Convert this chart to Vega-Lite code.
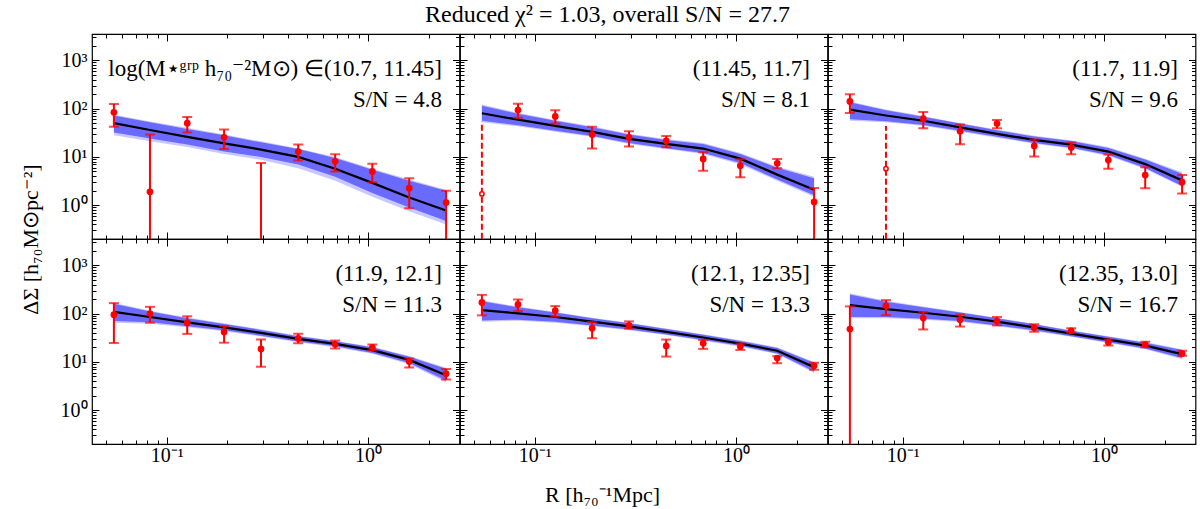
{
  "$schema": "https://vega.github.io/schema/vega-lite/v6.json",
  "background": "white",
  "padding": {"left": 18, "top": 2, "right": 4, "bottom": 2},
  "title": {"text": "Reduced χ² = 1.03, overall S/N = 27.7", "fontSize": 24, "font": "Liberation Serif", "fontWeight": "normal", "color": "black", "anchor": "middle", "offset": 0},
  "datasets": {
    "dsig": [
      {"p": 1, "R": 0.0546, "v": 84, "lo": 42, "hi": 125, "m": 50, "ilo": 32, "ihi": 72, "olo": 28, "ohi": 75},
      {"p": 1, "R": 0.0825, "v": 1.9, "lo": 0.01, "hi": 29, "m": 36, "ilo": 24, "ihi": 52, "olo": 21, "ohi": 54},
      {"p": 1, "R": 0.1264, "v": 50, "lo": 32, "hi": 67, "m": 26, "ilo": 18, "ihi": 38, "olo": 16, "ohi": 40},
      {"p": 1, "R": 0.1927, "v": 25.5, "lo": 14.6, "hi": 37, "m": 19, "ilo": 13, "ihi": 28, "olo": 11.5, "ohi": 29},
      {"p": 1, "R": 0.294, "v": null, "lo": 0.01, "hi": 7.5, "m": 14.2, "ilo": 10, "ihi": 20, "olo": 8.7, "ohi": 21},
      {"p": 1, "R": 0.45, "v": 12.9, "lo": 8.4, "hi": 18, "m": 10, "ilo": 7, "ihi": 14.5, "olo": 5.8, "ohi": 15},
      {"p": 1, "R": 0.687, "v": 8.1, "lo": 5.0, "hi": 11.4, "m": 5.7, "ilo": 3.9, "ihi": 9.5, "olo": 3.2, "ohi": 10},
      {"p": 1, "R": 1.051, "v": 5.0, "lo": 3.0, "hi": 7.2, "m": 2.9, "ilo": 1.8, "ihi": 5.4, "olo": 1.5, "ohi": 5.7},
      {"p": 1, "R": 1.603, "v": 2.25, "lo": 0.87, "hi": 3.6, "m": 1.45, "ilo": 0.9, "ihi": 3.2, "olo": 0.75, "ohi": 3.4},
      {"p": 1, "R": 2.445, "v": 1.14, "lo": 0.01, "hi": 2.0, "m": 0.78, "ilo": 0.47, "ihi": 2.0, "olo": 0.4, "ohi": 2.1},

      {"p": 2, "R": 0.0546, "v": 1.71, "lo": 0.01, "hi": 54, "neg": true, "m": 80, "ilo": 56, "ihi": 115, "olo": 52, "ohi": 122},
      {"p": 2, "R": 0.0825, "v": 93, "lo": 65, "hi": 126, "m": 59, "ilo": 45, "ihi": 78, "olo": 43, "ohi": 82},
      {"p": 2, "R": 0.1264, "v": 69, "lo": 49, "hi": 92, "m": 44, "ilo": 35, "ihi": 56, "olo": 33, "ohi": 58},
      {"p": 2, "R": 0.1927, "v": 29, "lo": 14.9, "hi": 42, "m": 33, "ilo": 27, "ihi": 41, "olo": 26, "ohi": 43},
      {"p": 2, "R": 0.294, "v": 25.5, "lo": 16.4, "hi": 34, "m": 23.6, "ilo": 19.5, "ihi": 29, "olo": 18.5, "ohi": 30},
      {"p": 2, "R": 0.45, "v": 21.4, "lo": 15.9, "hi": 27, "m": 18.6, "ilo": 15.2, "ihi": 22.5, "olo": 14.5, "ohi": 23.5},
      {"p": 2, "R": 0.687, "v": 9.1, "lo": 5.2, "hi": 12.5, "m": 14.9, "ilo": 12, "ihi": 18.5, "olo": 11.5, "ohi": 19.5},
      {"p": 2, "R": 1.051, "v": 6.6, "lo": 3.8, "hi": 9.0, "m": 9.2, "ilo": 7.5, "ihi": 11.5, "olo": 7, "ohi": 12},
      {"p": 2, "R": 1.603, "v": 7.4, "lo": 5.8, "hi": 9.1, "m": 4.3, "ilo": 3.4, "ihi": 6, "olo": 3.2, "ohi": 6.3},
      {"p": 2, "R": 2.445, "v": 1.17, "lo": 0.01, "hi": 2.27, "m": 2.1, "ilo": 1.6, "ihi": 3.6, "olo": 1.5, "ohi": 3.9},

      {"p": 3, "R": 0.0546, "v": 141, "lo": 81, "hi": 199, "m": 95, "ilo": 60, "ihi": 135, "olo": 56, "ohi": 140},
      {"p": 3, "R": 0.0825, "v": 5.7, "lo": 0.01, "hi": 43.6, "neg": true, "m": 72, "ilo": 55, "ihi": 92, "olo": 52, "ohi": 96},
      {"p": 3, "R": 0.1264, "v": 62, "lo": 39, "hi": 85, "m": 56, "ilo": 46, "ihi": 68, "olo": 44, "ohi": 70},
      {"p": 3, "R": 0.1927, "v": 34, "lo": 18.3, "hi": 47, "m": 41, "ilo": 35, "ihi": 49, "olo": 33, "ohi": 50},
      {"p": 3, "R": 0.294, "v": 49, "lo": 39, "hi": 58, "m": 30, "ilo": 26, "ihi": 35.5, "olo": 25, "ohi": 37},
      {"p": 3, "R": 0.45, "v": 16.9, "lo": 10.2, "hi": 22.9, "m": 22.5, "ilo": 19.5, "ihi": 26.5, "olo": 18.8, "ohi": 27.5},
      {"p": 3, "R": 0.687, "v": 15.6, "lo": 11.4, "hi": 19.8, "m": 18, "ilo": 15.5, "ihi": 21.3, "olo": 15, "ohi": 22},
      {"p": 3, "R": 1.051, "v": 8.6, "lo": 5.7, "hi": 11.2, "m": 12.9, "ilo": 11, "ihi": 15.3, "olo": 10.5, "ohi": 16},
      {"p": 3, "R": 1.603, "v": 4.2, "lo": 2.24, "hi": 6.1, "m": 7.1, "ilo": 5.9, "ihi": 8.8, "olo": 5.6, "ohi": 9.2},
      {"p": 3, "R": 2.445, "v": 3.0, "lo": 1.74, "hi": 4.2, "m": 3.27, "ilo": 2.5, "ihi": 4.5, "olo": 2.4, "ohi": 4.8},

      {"p": 4, "R": 0.0546, "v": 95, "lo": 24.6, "hi": 165, "m": 109, "ilo": 70, "ihi": 160, "olo": 65, "ohi": 168},
      {"p": 4, "R": 0.0825, "v": 100, "lo": 65, "hi": 138, "m": 85, "ilo": 66, "ihi": 110, "olo": 62, "ohi": 115},
      {"p": 4, "R": 0.1264, "v": 64, "lo": 38, "hi": 88, "m": 66, "ilo": 55, "ihi": 80, "olo": 52, "ohi": 83},
      {"p": 4, "R": 0.1927, "v": 41.7, "lo": 25, "hi": 55, "m": 52, "ilo": 45, "ihi": 61, "olo": 43, "ohi": 63},
      {"p": 4, "R": 0.294, "v": 18.6, "lo": 7.9, "hi": 29, "m": 40, "ilo": 35, "ihi": 46, "olo": 33.5, "ohi": 47.5},
      {"p": 4, "R": 0.45, "v": 30.8, "lo": 24.3, "hi": 38.5, "m": 30, "ilo": 26.5, "ihi": 34, "olo": 25.5, "ohi": 35},
      {"p": 4, "R": 0.687, "v": 23.2, "lo": 18.9, "hi": 27.6, "m": 23.6, "ilo": 21, "ihi": 26.8, "olo": 20, "ohi": 27.5},
      {"p": 4, "R": 1.051, "v": 20.1, "lo": 17.5, "hi": 22.9, "m": 17.5, "ilo": 15.3, "ihi": 20, "olo": 14.7, "ohi": 20.7},
      {"p": 4, "R": 1.603, "v": 10.2, "lo": 7.7, "hi": 11.8, "m": 11, "ilo": 9.5, "ihi": 12.8, "olo": 9, "ohi": 13.3},
      {"p": 4, "R": 2.445, "v": 5.7, "lo": 4.3, "hi": 7.1, "m": 5.3, "ilo": 4.1, "ihi": 7.2, "olo": 3.8, "ohi": 7.6},

      {"p": 5, "R": 0.0546, "v": 170, "lo": 92, "hi": 244, "m": 118, "ilo": 72, "ihi": 180, "olo": 68, "ohi": 190},
      {"p": 5, "R": 0.0825, "v": 155, "lo": 113, "hi": 196, "m": 101, "ilo": 75, "ihi": 135, "olo": 71, "ohi": 140},
      {"p": 5, "R": 0.1264, "v": 115, "lo": 86, "hi": 143, "m": 85, "ilo": 68, "ihi": 105, "olo": 65, "ohi": 108},
      {"p": 5, "R": 0.1927, "v": 50, "lo": 31, "hi": 67, "m": 68, "ilo": 57, "ihi": 80, "olo": 55, "ohi": 82},
      {"p": 5, "R": 0.294, "v": 57, "lo": 49, "hi": 69, "m": 54.5, "ilo": 47, "ihi": 63, "olo": 45, "ohi": 65},
      {"p": 5, "R": 0.45, "v": 21.4, "lo": 12.9, "hi": 29, "m": 42, "ilo": 37, "ihi": 48, "olo": 36, "ohi": 49},
      {"p": 5, "R": 0.687, "v": 24.3, "lo": 18.6, "hi": 28.5, "m": 32, "ilo": 28.5, "ihi": 36.5, "olo": 27.5, "ohi": 37.5},
      {"p": 5, "R": 1.051, "v": 20.8, "lo": 17.7, "hi": 24, "m": 24, "ilo": 21.5, "ihi": 27, "olo": 20.5, "ohi": 28},
      {"p": 5, "R": 1.603, "v": 12, "lo": 9.4, "hi": 13.1, "m": 17, "ilo": 15, "ihi": 19.5, "olo": 14.5, "ohi": 20},
      {"p": 5, "R": 2.445, "v": 8.3, "lo": 6.9, "hi": 9.6, "m": 7.8, "ilo": 6.3, "ihi": 9.6, "olo": 5.9, "ohi": 10},

      {"p": 6, "R": 0.0546, "v": 48, "lo": 0.01, "hi": 141, "m": 150, "ilo": 85, "ihi": 250, "olo": 80, "ohi": 265},
      {"p": 6, "R": 0.0825, "v": 145, "lo": 93, "hi": 190, "m": 124, "ilo": 85, "ihi": 175, "olo": 80, "ohi": 185},
      {"p": 6, "R": 0.1264, "v": 81, "lo": 47, "hi": 108, "m": 104, "ilo": 78, "ihi": 135, "olo": 75, "ohi": 140},
      {"p": 6, "R": 0.1927, "v": 75, "lo": 54, "hi": 96, "m": 86, "ilo": 70, "ihi": 105, "olo": 67, "ohi": 108},
      {"p": 6, "R": 0.294, "v": 70, "lo": 57, "hi": 85, "m": 68, "ilo": 57, "ihi": 80, "olo": 55, "ohi": 82},
      {"p": 6, "R": 0.45, "v": 51, "lo": 42, "hi": 60, "m": 52, "ilo": 45, "ihi": 60, "olo": 43, "ohi": 61},
      {"p": 6, "R": 0.687, "v": 44, "lo": 40, "hi": 50, "m": 38.5, "ilo": 34, "ihi": 44, "olo": 33, "ohi": 45},
      {"p": 6, "R": 1.051, "v": 25.5, "lo": 21.8, "hi": 29, "m": 29, "ilo": 25.5, "ihi": 33, "olo": 24.5, "ohi": 34},
      {"p": 6, "R": 1.603, "v": 22.9, "lo": 20.1, "hi": 26, "m": 21.8, "ilo": 19, "ihi": 25, "olo": 18.3, "ohi": 25.8},
      {"p": 6, "R": 2.445, "v": 14.9, "lo": 13.4, "hi": 17, "m": 14.5, "ilo": 12, "ihi": 17.6, "olo": 11.3, "ohi": 18.3}
    ],
    "labels": [
      {"p": 1, "rng": "log(M⋆ᵍʳᵖ h₇₀⁻²M⊙) ∈(10.7, 11.45]", "sn": "S/N = 4.8"},
      {"p": 2, "rng": "(11.45, 11.7]", "sn": "S/N = 8.1"},
      {"p": 3, "rng": "(11.7, 11.9]", "sn": "S/N = 9.6"},
      {"p": 4, "rng": "(11.9, 12.1]", "sn": "S/N = 11.3"},
      {"p": 5, "rng": "(12.1, 12.35]", "sn": "S/N = 13.3"},
      {"p": 6, "rng": "(12.35, 13.0]", "sn": "S/N = 16.7"}
    ]
  },
  "data": {"name": "dsig"},
  "columns": 3,
  "spacing": 0,
  "bounds": "flush",
  "concat": [
    {
      "width": 367.5, "height": 205,
      "transform": [{"filter": "datum.p == 1"}],
      "layer": [
        {"mark": {"type": "area", "color": "#c8c8ff"},
         "encoding": {
           "x": {"field": "R", "type": "quantitative", "scale": {"type": "log", "domain": [0.0425, 2.85], "nice": false}, "axis": {"orient": "bottom", "labels": false, "title": null}},
           "y": {"field": "olo", "type": "quantitative", "scale": {"type": "log", "domain": [0.2, 3500], "nice": false}, "axis": {"orient": "left", "title": "ΔΣ [h₇₀M⊙pc⁻²]", "titleX": -62, "titleY": 205, "titleBaseline": "middle"}},
           "y2": {"field": "ohi"}}},
        {"mark": {"type": "area", "color": "#6a6aff"},
         "encoding": {
           "x": {"field": "R", "type": "quantitative", "axis": {"orient": "top", "labels": false, "title": null}},
           "y": {"field": "ilo", "type": "quantitative", "axis": {"orient": "right", "labels": false, "title": null}},
           "y2": {"field": "ihi"}}},
        {"mark": {"type": "line", "color": "black", "strokeWidth": 2.2},
         "encoding": {"x": {"field": "R", "type": "quantitative", "axis": null}, "y": {"field": "m", "type": "quantitative", "axis": null}}},
        {"transform": [{"filter": "!datum.neg"}], "mark": {"type": "rule", "color": "red", "strokeWidth": 2, "clip": true},
         "encoding": {"x": {"field": "R", "type": "quantitative", "axis": null}, "y": {"field": "lo", "type": "quantitative", "axis": null}, "y2": {"field": "hi"}}},
        {"transform": [{"filter": "datum.neg"}], "mark": {"type": "rule", "color": "red", "strokeWidth": 2, "strokeDash": [6, 3], "clip": true},
         "encoding": {"x": {"field": "R", "type": "quantitative", "axis": null}, "y": {"field": "lo", "type": "quantitative", "axis": null}, "y2": {"field": "hi"}}},
        {"transform": [{"filter": "!datum.neg"}], "mark": {"type": "tick", "orient": "horizontal", "color": "red", "thickness": 2, "size": 10, "clip": true},
         "encoding": {"x": {"field": "R", "type": "quantitative", "axis": null}, "y": {"field": "hi", "type": "quantitative", "axis": null}}},
        {"transform": [{"filter": "!datum.neg"}], "mark": {"type": "tick", "orient": "horizontal", "color": "red", "thickness": 2, "size": 10, "clip": true},
         "encoding": {"x": {"field": "R", "type": "quantitative", "axis": null}, "y": {"field": "lo", "type": "quantitative", "axis": null}}},
        {"transform": [{"filter": "!datum.neg"}], "mark": {"type": "circle", "color": "red", "size": 45, "opacity": 1},
         "encoding": {"x": {"field": "R", "type": "quantitative", "axis": null}, "y": {"field": "v", "type": "quantitative", "axis": null}}},
        {"transform": [{"filter": "datum.neg"}], "mark": {"type": "point", "shape": "circle", "color": "red", "fill": "white", "filled": false, "strokeWidth": 1.5, "size": 18, "opacity": 1},
         "encoding": {"x": {"field": "R", "type": "quantitative", "axis": null}, "y": {"field": "v", "type": "quantitative", "axis": null}}},
        {"data": {"name": "labels"}, "transform": [{"filter": "datum.p == 1"}],
         "mark": {"type": "text", "align": "right", "baseline": "middle", "fontSize": 23, "font": "Liberation Serif"},
         "encoding": {"x": {"datum": 2.33, "type": "quantitative", "axis": null}, "y": {"datum": 670, "type": "quantitative", "axis": null}, "text": {"field": "rng"}}},
        {"data": {"name": "labels"}, "transform": [{"filter": "datum.p == 1"}],
         "mark": {"type": "text", "align": "right", "baseline": "middle", "fontSize": 23, "font": "Liberation Serif"},
         "encoding": {"x": {"datum": 2.33, "type": "quantitative", "axis": null}, "y": {"datum": 150, "type": "quantitative", "axis": null}, "text": {"field": "sn"}}}
      ],
      "resolve": {"axis": {"x": "independent", "y": "independent"}}
    },
    {
      "width": 367.5, "height": 205,
      "transform": [{"filter": "datum.p == 2"}],
      "layer": [
        {"mark": {"type": "area", "color": "#c8c8ff"},
         "encoding": {
           "x": {"field": "R", "type": "quantitative", "scale": {"type": "log", "domain": [0.0425, 2.85], "nice": false}, "axis": {"orient": "bottom", "labels": false, "title": null}},
           "y": {"field": "olo", "type": "quantitative", "scale": {"type": "log", "domain": [0.2, 3500], "nice": false}, "axis": {"orient": "left", "labels": false, "title": null}},
           "y2": {"field": "ohi"}}},
        {"mark": {"type": "area", "color": "#6a6aff"},
         "encoding": {
           "x": {"field": "R", "type": "quantitative", "axis": {"orient": "top", "labels": false, "title": null}},
           "y": {"field": "ilo", "type": "quantitative", "axis": {"orient": "right", "labels": false, "title": null}},
           "y2": {"field": "ihi"}}},
        {"mark": {"type": "line", "color": "black", "strokeWidth": 2.2},
         "encoding": {"x": {"field": "R", "type": "quantitative", "axis": null}, "y": {"field": "m", "type": "quantitative", "axis": null}}},
        {"transform": [{"filter": "!datum.neg"}], "mark": {"type": "rule", "color": "red", "strokeWidth": 2, "clip": true},
         "encoding": {"x": {"field": "R", "type": "quantitative", "axis": null}, "y": {"field": "lo", "type": "quantitative", "axis": null}, "y2": {"field": "hi"}}},
        {"transform": [{"filter": "datum.neg"}], "mark": {"type": "rule", "color": "red", "strokeWidth": 2, "strokeDash": [6, 3], "clip": true},
         "encoding": {"x": {"field": "R", "type": "quantitative", "axis": null}, "y": {"field": "lo", "type": "quantitative", "axis": null}, "y2": {"field": "hi"}}},
        {"transform": [{"filter": "!datum.neg"}], "mark": {"type": "tick", "orient": "horizontal", "color": "red", "thickness": 2, "size": 10, "clip": true},
         "encoding": {"x": {"field": "R", "type": "quantitative", "axis": null}, "y": {"field": "hi", "type": "quantitative", "axis": null}}},
        {"transform": [{"filter": "!datum.neg"}], "mark": {"type": "tick", "orient": "horizontal", "color": "red", "thickness": 2, "size": 10, "clip": true},
         "encoding": {"x": {"field": "R", "type": "quantitative", "axis": null}, "y": {"field": "lo", "type": "quantitative", "axis": null}}},
        {"transform": [{"filter": "!datum.neg"}], "mark": {"type": "circle", "color": "red", "size": 45, "opacity": 1},
         "encoding": {"x": {"field": "R", "type": "quantitative", "axis": null}, "y": {"field": "v", "type": "quantitative", "axis": null}}},
        {"transform": [{"filter": "datum.neg"}], "mark": {"type": "point", "shape": "circle", "color": "red", "fill": "white", "filled": false, "strokeWidth": 1.5, "size": 18, "opacity": 1},
         "encoding": {"x": {"field": "R", "type": "quantitative", "axis": null}, "y": {"field": "v", "type": "quantitative", "axis": null}}},
        {"data": {"name": "labels"}, "transform": [{"filter": "datum.p == 2"}],
         "mark": {"type": "text", "align": "right", "baseline": "middle", "fontSize": 23, "font": "Liberation Serif"},
         "encoding": {"x": {"datum": 2.33, "type": "quantitative", "axis": null}, "y": {"datum": 670, "type": "quantitative", "axis": null}, "text": {"field": "rng"}}},
        {"data": {"name": "labels"}, "transform": [{"filter": "datum.p == 2"}],
         "mark": {"type": "text", "align": "right", "baseline": "middle", "fontSize": 23, "font": "Liberation Serif"},
         "encoding": {"x": {"datum": 2.33, "type": "quantitative", "axis": null}, "y": {"datum": 150, "type": "quantitative", "axis": null}, "text": {"field": "sn"}}}
      ],
      "resolve": {"axis": {"x": "independent", "y": "independent"}}
    },
    {
      "width": 367.5, "height": 205,
      "transform": [{"filter": "datum.p == 3"}],
      "layer": [
        {"mark": {"type": "area", "color": "#c8c8ff"},
         "encoding": {
           "x": {"field": "R", "type": "quantitative", "scale": {"type": "log", "domain": [0.0425, 2.85], "nice": false}, "axis": {"orient": "bottom", "labels": false, "title": null}},
           "y": {"field": "olo", "type": "quantitative", "scale": {"type": "log", "domain": [0.2, 3500], "nice": false}, "axis": {"orient": "left", "labels": false, "title": null}},
           "y2": {"field": "ohi"}}},
        {"mark": {"type": "area", "color": "#6a6aff"},
         "encoding": {
           "x": {"field": "R", "type": "quantitative", "axis": {"orient": "top", "labels": false, "title": null}},
           "y": {"field": "ilo", "type": "quantitative", "axis": {"orient": "right", "labels": false, "title": null}},
           "y2": {"field": "ihi"}}},
        {"mark": {"type": "line", "color": "black", "strokeWidth": 2.2},
         "encoding": {"x": {"field": "R", "type": "quantitative", "axis": null}, "y": {"field": "m", "type": "quantitative", "axis": null}}},
        {"transform": [{"filter": "!datum.neg"}], "mark": {"type": "rule", "color": "red", "strokeWidth": 2, "clip": true},
         "encoding": {"x": {"field": "R", "type": "quantitative", "axis": null}, "y": {"field": "lo", "type": "quantitative", "axis": null}, "y2": {"field": "hi"}}},
        {"transform": [{"filter": "datum.neg"}], "mark": {"type": "rule", "color": "red", "strokeWidth": 2, "strokeDash": [6, 3], "clip": true},
         "encoding": {"x": {"field": "R", "type": "quantitative", "axis": null}, "y": {"field": "lo", "type": "quantitative", "axis": null}, "y2": {"field": "hi"}}},
        {"transform": [{"filter": "!datum.neg"}], "mark": {"type": "tick", "orient": "horizontal", "color": "red", "thickness": 2, "size": 10, "clip": true},
         "encoding": {"x": {"field": "R", "type": "quantitative", "axis": null}, "y": {"field": "hi", "type": "quantitative", "axis": null}}},
        {"transform": [{"filter": "!datum.neg"}], "mark": {"type": "tick", "orient": "horizontal", "color": "red", "thickness": 2, "size": 10, "clip": true},
         "encoding": {"x": {"field": "R", "type": "quantitative", "axis": null}, "y": {"field": "lo", "type": "quantitative", "axis": null}}},
        {"transform": [{"filter": "!datum.neg"}], "mark": {"type": "circle", "color": "red", "size": 45, "opacity": 1},
         "encoding": {"x": {"field": "R", "type": "quantitative", "axis": null}, "y": {"field": "v", "type": "quantitative", "axis": null}}},
        {"transform": [{"filter": "datum.neg"}], "mark": {"type": "point", "shape": "circle", "color": "red", "fill": "white", "filled": false, "strokeWidth": 1.5, "size": 18, "opacity": 1},
         "encoding": {"x": {"field": "R", "type": "quantitative", "axis": null}, "y": {"field": "v", "type": "quantitative", "axis": null}}},
        {"data": {"name": "labels"}, "transform": [{"filter": "datum.p == 3"}],
         "mark": {"type": "text", "align": "right", "baseline": "middle", "fontSize": 23, "font": "Liberation Serif"},
         "encoding": {"x": {"datum": 2.33, "type": "quantitative", "axis": null}, "y": {"datum": 670, "type": "quantitative", "axis": null}, "text": {"field": "rng"}}},
        {"data": {"name": "labels"}, "transform": [{"filter": "datum.p == 3"}],
         "mark": {"type": "text", "align": "right", "baseline": "middle", "fontSize": 23, "font": "Liberation Serif"},
         "encoding": {"x": {"datum": 2.33, "type": "quantitative", "axis": null}, "y": {"datum": 150, "type": "quantitative", "axis": null}, "text": {"field": "sn"}}}
      ],
      "resolve": {"axis": {"x": "independent", "y": "independent"}}
    },
    {
      "width": 367.5, "height": 205,
      "transform": [{"filter": "datum.p == 4"}],
      "layer": [
        {"mark": {"type": "area", "color": "#c8c8ff"},
         "encoding": {
           "x": {"field": "R", "type": "quantitative", "scale": {"type": "log", "domain": [0.0425, 2.85], "nice": false}, "axis": {"orient": "bottom", "title": null}},
           "y": {"field": "olo", "type": "quantitative", "scale": {"type": "log", "domain": [0.2, 3500], "nice": false}, "axis": {"orient": "left", "title": null}},
           "y2": {"field": "ohi"}}},
        {"mark": {"type": "area", "color": "#6a6aff"},
         "encoding": {
           "x": {"field": "R", "type": "quantitative", "axis": {"orient": "top", "labels": false, "title": null}},
           "y": {"field": "ilo", "type": "quantitative", "axis": {"orient": "right", "labels": false, "title": null}},
           "y2": {"field": "ihi"}}},
        {"mark": {"type": "line", "color": "black", "strokeWidth": 2.2},
         "encoding": {"x": {"field": "R", "type": "quantitative", "axis": null}, "y": {"field": "m", "type": "quantitative", "axis": null}}},
        {"transform": [{"filter": "!datum.neg"}], "mark": {"type": "rule", "color": "red", "strokeWidth": 2, "clip": true},
         "encoding": {"x": {"field": "R", "type": "quantitative", "axis": null}, "y": {"field": "lo", "type": "quantitative", "axis": null}, "y2": {"field": "hi"}}},
        {"transform": [{"filter": "datum.neg"}], "mark": {"type": "rule", "color": "red", "strokeWidth": 2, "strokeDash": [6, 3], "clip": true},
         "encoding": {"x": {"field": "R", "type": "quantitative", "axis": null}, "y": {"field": "lo", "type": "quantitative", "axis": null}, "y2": {"field": "hi"}}},
        {"transform": [{"filter": "!datum.neg"}], "mark": {"type": "tick", "orient": "horizontal", "color": "red", "thickness": 2, "size": 10, "clip": true},
         "encoding": {"x": {"field": "R", "type": "quantitative", "axis": null}, "y": {"field": "hi", "type": "quantitative", "axis": null}}},
        {"transform": [{"filter": "!datum.neg"}], "mark": {"type": "tick", "orient": "horizontal", "color": "red", "thickness": 2, "size": 10, "clip": true},
         "encoding": {"x": {"field": "R", "type": "quantitative", "axis": null}, "y": {"field": "lo", "type": "quantitative", "axis": null}}},
        {"transform": [{"filter": "!datum.neg"}], "mark": {"type": "circle", "color": "red", "size": 45, "opacity": 1},
         "encoding": {"x": {"field": "R", "type": "quantitative", "axis": null}, "y": {"field": "v", "type": "quantitative", "axis": null}}},
        {"transform": [{"filter": "datum.neg"}], "mark": {"type": "point", "shape": "circle", "color": "red", "fill": "white", "filled": false, "strokeWidth": 1.5, "size": 18, "opacity": 1},
         "encoding": {"x": {"field": "R", "type": "quantitative", "axis": null}, "y": {"field": "v", "type": "quantitative", "axis": null}}},
        {"data": {"name": "labels"}, "transform": [{"filter": "datum.p == 4"}],
         "mark": {"type": "text", "align": "right", "baseline": "middle", "fontSize": 23, "font": "Liberation Serif"},
         "encoding": {"x": {"datum": 2.33, "type": "quantitative", "axis": null}, "y": {"datum": 670, "type": "quantitative", "axis": null}, "text": {"field": "rng"}}},
        {"data": {"name": "labels"}, "transform": [{"filter": "datum.p == 4"}],
         "mark": {"type": "text", "align": "right", "baseline": "middle", "fontSize": 23, "font": "Liberation Serif"},
         "encoding": {"x": {"datum": 2.33, "type": "quantitative", "axis": null}, "y": {"datum": 150, "type": "quantitative", "axis": null}, "text": {"field": "sn"}}}
      ],
      "resolve": {"axis": {"x": "independent", "y": "independent"}}
    },
    {
      "width": 367.5, "height": 205,
      "transform": [{"filter": "datum.p == 5"}],
      "layer": [
        {"mark": {"type": "area", "color": "#c8c8ff"},
         "encoding": {
           "x": {"field": "R", "type": "quantitative", "scale": {"type": "log", "domain": [0.0425, 2.85], "nice": false}, "axis": {"orient": "bottom", "title": "R [h₇₀⁻¹Mpc]", "titleX": 142, "titleY": 50, "titleBaseline": "middle"}},
           "y": {"field": "olo", "type": "quantitative", "scale": {"type": "log", "domain": [0.2, 3500], "nice": false}, "axis": {"orient": "left", "labels": false, "title": null}},
           "y2": {"field": "ohi"}}},
        {"mark": {"type": "area", "color": "#6a6aff"},
         "encoding": {
           "x": {"field": "R", "type": "quantitative", "axis": {"orient": "top", "labels": false, "title": null}},
           "y": {"field": "ilo", "type": "quantitative", "axis": {"orient": "right", "labels": false, "title": null}},
           "y2": {"field": "ihi"}}},
        {"mark": {"type": "line", "color": "black", "strokeWidth": 2.2},
         "encoding": {"x": {"field": "R", "type": "quantitative", "axis": null}, "y": {"field": "m", "type": "quantitative", "axis": null}}},
        {"transform": [{"filter": "!datum.neg"}], "mark": {"type": "rule", "color": "red", "strokeWidth": 2, "clip": true},
         "encoding": {"x": {"field": "R", "type": "quantitative", "axis": null}, "y": {"field": "lo", "type": "quantitative", "axis": null}, "y2": {"field": "hi"}}},
        {"transform": [{"filter": "datum.neg"}], "mark": {"type": "rule", "color": "red", "strokeWidth": 2, "strokeDash": [6, 3], "clip": true},
         "encoding": {"x": {"field": "R", "type": "quantitative", "axis": null}, "y": {"field": "lo", "type": "quantitative", "axis": null}, "y2": {"field": "hi"}}},
        {"transform": [{"filter": "!datum.neg"}], "mark": {"type": "tick", "orient": "horizontal", "color": "red", "thickness": 2, "size": 10, "clip": true},
         "encoding": {"x": {"field": "R", "type": "quantitative", "axis": null}, "y": {"field": "hi", "type": "quantitative", "axis": null}}},
        {"transform": [{"filter": "!datum.neg"}], "mark": {"type": "tick", "orient": "horizontal", "color": "red", "thickness": 2, "size": 10, "clip": true},
         "encoding": {"x": {"field": "R", "type": "quantitative", "axis": null}, "y": {"field": "lo", "type": "quantitative", "axis": null}}},
        {"transform": [{"filter": "!datum.neg"}], "mark": {"type": "circle", "color": "red", "size": 45, "opacity": 1},
         "encoding": {"x": {"field": "R", "type": "quantitative", "axis": null}, "y": {"field": "v", "type": "quantitative", "axis": null}}},
        {"transform": [{"filter": "datum.neg"}], "mark": {"type": "point", "shape": "circle", "color": "red", "fill": "white", "filled": false, "strokeWidth": 1.5, "size": 18, "opacity": 1},
         "encoding": {"x": {"field": "R", "type": "quantitative", "axis": null}, "y": {"field": "v", "type": "quantitative", "axis": null}}},
        {"data": {"name": "labels"}, "transform": [{"filter": "datum.p == 5"}],
         "mark": {"type": "text", "align": "right", "baseline": "middle", "fontSize": 23, "font": "Liberation Serif"},
         "encoding": {"x": {"datum": 2.33, "type": "quantitative", "axis": null}, "y": {"datum": 670, "type": "quantitative", "axis": null}, "text": {"field": "rng"}}},
        {"data": {"name": "labels"}, "transform": [{"filter": "datum.p == 5"}],
         "mark": {"type": "text", "align": "right", "baseline": "middle", "fontSize": 23, "font": "Liberation Serif"},
         "encoding": {"x": {"datum": 2.33, "type": "quantitative", "axis": null}, "y": {"datum": 150, "type": "quantitative", "axis": null}, "text": {"field": "sn"}}}
      ],
      "resolve": {"axis": {"x": "independent", "y": "independent"}}
    },
    {
      "width": 367.5, "height": 205,
      "transform": [{"filter": "datum.p == 6"}],
      "layer": [
        {"mark": {"type": "area", "color": "#c8c8ff"},
         "encoding": {
           "x": {"field": "R", "type": "quantitative", "scale": {"type": "log", "domain": [0.0425, 2.85], "nice": false}, "axis": {"orient": "bottom", "title": null}},
           "y": {"field": "olo", "type": "quantitative", "scale": {"type": "log", "domain": [0.2, 3500], "nice": false}, "axis": {"orient": "left", "labels": false, "title": null}},
           "y2": {"field": "ohi"}}},
        {"mark": {"type": "area", "color": "#6a6aff"},
         "encoding": {
           "x": {"field": "R", "type": "quantitative", "axis": {"orient": "top", "labels": false, "title": null}},
           "y": {"field": "ilo", "type": "quantitative", "axis": {"orient": "right", "labels": false, "title": null}},
           "y2": {"field": "ihi"}}},
        {"mark": {"type": "line", "color": "black", "strokeWidth": 2.2},
         "encoding": {"x": {"field": "R", "type": "quantitative", "axis": null}, "y": {"field": "m", "type": "quantitative", "axis": null}}},
        {"transform": [{"filter": "!datum.neg"}], "mark": {"type": "rule", "color": "red", "strokeWidth": 2, "clip": true},
         "encoding": {"x": {"field": "R", "type": "quantitative", "axis": null}, "y": {"field": "lo", "type": "quantitative", "axis": null}, "y2": {"field": "hi"}}},
        {"transform": [{"filter": "datum.neg"}], "mark": {"type": "rule", "color": "red", "strokeWidth": 2, "strokeDash": [6, 3], "clip": true},
         "encoding": {"x": {"field": "R", "type": "quantitative", "axis": null}, "y": {"field": "lo", "type": "quantitative", "axis": null}, "y2": {"field": "hi"}}},
        {"transform": [{"filter": "!datum.neg"}], "mark": {"type": "tick", "orient": "horizontal", "color": "red", "thickness": 2, "size": 10, "clip": true},
         "encoding": {"x": {"field": "R", "type": "quantitative", "axis": null}, "y": {"field": "hi", "type": "quantitative", "axis": null}}},
        {"transform": [{"filter": "!datum.neg"}], "mark": {"type": "tick", "orient": "horizontal", "color": "red", "thickness": 2, "size": 10, "clip": true},
         "encoding": {"x": {"field": "R", "type": "quantitative", "axis": null}, "y": {"field": "lo", "type": "quantitative", "axis": null}}},
        {"transform": [{"filter": "!datum.neg"}], "mark": {"type": "circle", "color": "red", "size": 45, "opacity": 1},
         "encoding": {"x": {"field": "R", "type": "quantitative", "axis": null}, "y": {"field": "v", "type": "quantitative", "axis": null}}},
        {"transform": [{"filter": "datum.neg"}], "mark": {"type": "point", "shape": "circle", "color": "red", "fill": "white", "filled": false, "strokeWidth": 1.5, "size": 18, "opacity": 1},
         "encoding": {"x": {"field": "R", "type": "quantitative", "axis": null}, "y": {"field": "v", "type": "quantitative", "axis": null}}},
        {"data": {"name": "labels"}, "transform": [{"filter": "datum.p == 6"}],
         "mark": {"type": "text", "align": "right", "baseline": "middle", "fontSize": 23, "font": "Liberation Serif"},
         "encoding": {"x": {"datum": 2.33, "type": "quantitative", "axis": null}, "y": {"datum": 670, "type": "quantitative", "axis": null}, "text": {"field": "rng"}}},
        {"data": {"name": "labels"}, "transform": [{"filter": "datum.p == 6"}],
         "mark": {"type": "text", "align": "right", "baseline": "middle", "fontSize": 23, "font": "Liberation Serif"},
         "encoding": {"x": {"datum": 2.33, "type": "quantitative", "axis": null}, "y": {"datum": 150, "type": "quantitative", "axis": null}, "text": {"field": "sn"}}}
      ],
      "resolve": {"axis": {"x": "independent", "y": "independent"}}
    }
  ],
  "config": {
    "font": "Liberation Serif",
    "view": {"stroke": "black", "strokeWidth": 1.2},
    "axis": {
      "domain": false,
      "grid": false,
      "tickCount": 20,
      "tickColor": "black",
      "tickWidth": 1,
      "tickSize": {"condition": {"test": "indexof([0.1, 1, 10, 100, 1000], datum.value) >= 0", "value": -7}, "value": -4},
      "labelExpr": "datum.value === 0.1 ? '10⁻¹' : datum.value === 1 ? '10⁰' : datum.value === 10 ? '10¹' : datum.value === 100 ? '10²' : datum.value === 1000 ? '10³' : ''",
      "labelFont": "Liberation Serif",
      "labelFontSize": 20,
      "labelColor": "black",
      "labelOverlap": false,
      "labelFlush": false,
      "labelPadding": 12,
      "titleFont": "Liberation Serif",
      "titleFontSize": 22,
      "titleFontWeight": "normal",
      "titleColor": "black"
    },
    "axisX": {"labelPadding": 8}
  }
}
